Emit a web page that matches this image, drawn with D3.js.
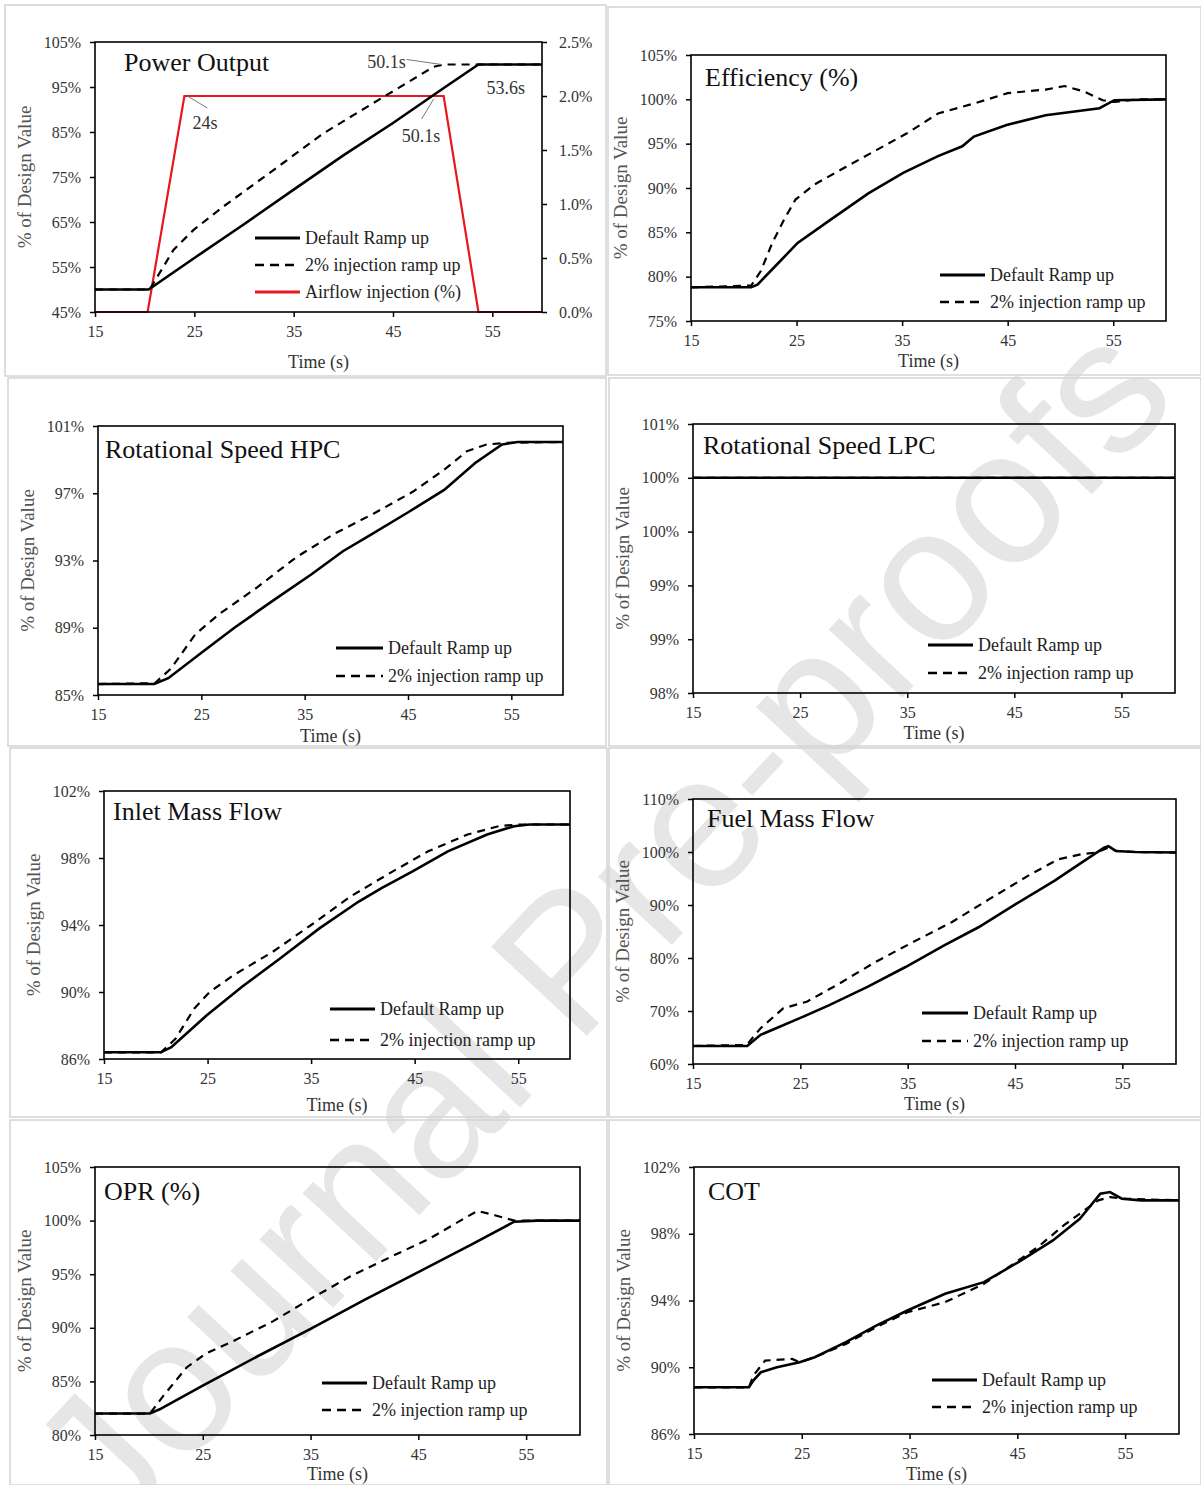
<!DOCTYPE html>
<html><head><meta charset="utf-8">
<script src="https://cdn.jsdelivr.net/npm/d3@7"></script>
<style>body{margin:0;background:#fff}svg{display:block}</style>
</head><body>
<svg id="chart" width="1201" height="1485"></svg>
<script>
// ---------------- DATA ----------------
const timeDomain = [15, 60];
const timeTicks = [15, 25, 35, 45, 55];
const seriesNames = ["Default Ramp up", "2% injection ramp up", "Airflow injection (%)"];
const xAxisTitle = "Time (s)";
const yAxisTitle = "% of Design Value";
const watermarkText = "Journal Pre-proofs";

// Panel 1 – Power Output
const powerTitle = "Power Output";
const powerTicks = [45, 55, 65, 75, 85, 95, 105];
const airflowTicks = [0, 0.5, 1, 1.5, 2, 2.5];
const powerDefault = [[15,50],[20.4,50],[25,57],[30,64.5],[35,72.2],[40,79.8],[45,87],[50,94.6],[53.6,100],[60,100]];
const powerInjection = [[15,50],[20.5,50],[22.9,58.8],[24.9,63.2],[27.9,68.4],[33,76.6],[38,84.7],[43,91.4],[49.1,99.5],[50.1,100],[53.6,100],[60,100]];
const airflowInjection = [[15,0],[20.3,0],[24,2],[50.1,2],[53.6,0],[60,0]];
const powerNotes = [
  {label:"50.1s", t:50.1, v:100, axis:"left"},
  {label:"53.6s", t:53.6, v:100, axis:"left"},
  {label:"24s",   t:24,   v:2,   axis:"right"},
  {label:"50.1s", t:50.1, v:2,   axis:"right"}
];

// Panel 2 – Efficiency
const effTitle = "Efficiency (%)";
const effTicks = [75, 80, 85, 90, 95, 100, 105];
const effDefault = [[15,78.8],[20.7,78.8],[21.3,79.1],[23,81.2],[25.1,83.8],[28.2,86.4],[31.8,89.4],[35.1,91.7],[38.4,93.6],[40.7,94.7],[41.8,95.8],[44.9,97.1],[48.6,98.2],[53.7,99.0],[55.1,99.9],[60,100]];
const effInjection = [[15,78.8],[20.7,79.0],[21.6,80.6],[22.7,83.8],[23.8,86.4],[24.9,88.7],[26.7,90.4],[29.7,92.4],[32.6,94.3],[35.5,96.2],[38.4,98.4],[42.0,99.6],[45,100.7],[48.6,101.1],[50.4,101.5],[52.2,100.9],[54,99.9],[55.1,99.7],[57.3,100],[60,100]];

// Panel 3 – Rotational Speed HPC
const hpcTitle = "Rotational Speed HPC";
const hpcTicks = [85, 89, 93, 97, 101];
const hpcDefault = [[15,85.65],[20.45,85.65],[21.8,86.0],[25.2,87.6],[28.2,89.0],[31.9,90.6],[35.7,92.2],[38.7,93.55],[41.3,94.5],[45.1,95.9],[48.5,97.2],[51.5,98.8],[54.1,99.9],[55.6,100.05],[60,100.05]];
const hpcInjection = [[15,85.65],[20.5,85.7],[22.1,86.6],[24.4,88.6],[26.7,89.8],[30.4,91.4],[34.2,93.2],[37.9,94.6],[41.7,95.8],[45.5,97.1],[48.5,98.4],[50.7,99.5],[52.6,99.9],[54.5,100.0],[60,100.05]];

// Panel 4 – Rotational Speed LPC
const lpcTitle = "Rotational Speed LPC";
const lpcTicks = [98, 98.6, 99.2, 99.8, 100.4, 101];
const lpcDefault = [[15,100.4],[60,100.4]];
const lpcInjection = [[15,100.4],[60,100.4]];

// Panel 5 – Inlet Mass Flow
const inletTitle = "Inlet Mass Flow";
const inletTicks = [86, 90, 94, 98, 102];
const inletDefault = [[15,86.4],[20.5,86.4],[21.5,86.7],[24.9,88.6],[28.3,90.3],[32.0,92.0],[35.8,93.8],[39.6,95.4],[41.8,96.2],[44.8,97.2],[48.2,98.4],[52.0,99.4],[54.6,99.9],[56.1,100.0],[60,100.0]];
const inletInjection = [[15,86.4],[20.5,86.4],[21.9,87.2],[23.7,89.0],[25.2,90.0],[27.5,91.0],[31.3,92.4],[35.0,94.0],[38.8,95.7],[42.6,97.1],[46.3,98.4],[50.1,99.4],[53.1,99.9],[55,100],[60,100]];

// Panel 6 – Fuel Mass Flow
const fuelTitle = "Fuel Mass Flow";
const fuelTicks = [60, 70, 80, 90, 100, 110];
const fuelDefault = [[15,63.4],[20.05,63.4],[21.3,65.5],[24.9,68.6],[27.7,71.1],[31.3,74.6],[34.8,78.3],[38.4,82.4],[41.6,85.8],[45.1,90.2],[48.7,94.6],[51.2,98.0],[53.3,100.8],[53.7,101.1],[54.4,100.2],[56.2,100.0],[60,99.9]];
const fuelInjection = [[15,63.4],[20.0,63.6],[21.3,66.75],[23.4,70.5],[25.6,71.75],[28.4,74.9],[32,79.25],[35.5,83],[39.1,86.75],[42.6,91.1],[46.2,95.5],[49,98.6],[51.2,99.6],[52.6,99.9],[53.7,100.8],[54.4,100.2],[56.2,100],[60,99.9]];

// Panel 7 – OPR
const oprTitle = "OPR (%)";
const oprTicks = [80, 85, 90, 95, 100, 105];
const oprDefault = [[15,82],[20.1,82],[21,82.4],[25,84.6],[30,87.3],[35,89.9],[40,92.6],[45,95.2],[50,97.8],[53.9,99.9],[56,100],[60,100]];
const oprInjection = [[15,82],[20.1,82],[21.3,83.6],[23.5,86.3],[25.3,87.6],[27.9,88.8],[31.5,90.6],[35,92.7],[38.7,94.8],[42.4,96.6],[46,98.3],[49.6,100.4],[50.5,100.9],[52.1,100.5],[53.9,100],[60,100]];

// Panel 8 – COT
const cotTitle = "COT";
const cotTicks = [86, 90, 94, 98, 102];
const cotDefault = [[15,88.8],[20.1,88.8],[20.5,89.2],[21.2,89.7],[22.7,90.0],[24.8,90.3],[26.2,90.6],[29.1,91.5],[31.9,92.5],[34.8,93.4],[38.3,94.4],[41.9,95.1],[45.1,96.3],[48.3,97.6],[50.8,98.9],[52.7,100.4],[53.6,100.5],[54.7,100.1],[56.5,100.0],[60,100.0]];
const cotInjection = [[15,88.8],[20.1,88.8],[20.5,89.5],[21.6,90.4],[24.1,90.5],[24.8,90.3],[26.2,90.6],[29.1,91.4],[31.9,92.4],[34.8,93.3],[38.3,93.9],[41.9,95.0],[45.1,96.4],[46.9,97.2],[49.3,98.5],[52.5,100.0],[53.6,100.2],[55,100.1],[60,100.0]];

// ---------------- LAYOUT ----------------
const panels = [
  {title:powerTitle, ticks:powerTicks, def:powerDefault, inj:powerInjection,
   frame:[5,5,606,376], plot:[95,42,542,312], titlePos:[124,63], legend:[255,238,27,45], xTitleDy:50},
  {title:effTitle, ticks:effTicks, def:effDefault, inj:effInjection,
   frame:[608,7,1201,375], plot:[691,55,1166,321], titlePos:[705,78], legend:[940,275,27,45], xTitleDy:40},
  {title:hpcTitle, ticks:hpcTicks, def:hpcDefault, inj:hpcInjection,
   frame:[8,378,606,746], plot:[98,426,563,695], titlePos:[105,450], legend:[336,648,28,47], xTitleDy:41},
  {title:lpcTitle, ticks:lpcTicks, def:lpcDefault, inj:lpcInjection,
   frame:[609,378,1201,746], plot:[693,424,1175,693], titlePos:[703,446], legend:[928,645,28,45], xTitleDy:40},
  {title:inletTitle, ticks:inletTicks, def:inletDefault, inj:inletInjection,
   frame:[10,748,607,1117], plot:[104,791,570,1059], titlePos:[113,812], legend:[330,1009,31,45], xTitleDy:46},
  {title:fuelTitle, ticks:fuelTicks, def:fuelDefault, inj:fuelInjection,
   frame:[609,748,1201,1117], plot:[693,799,1176,1064], titlePos:[707,819], legend:[922,1013,28,46], xTitleDy:40},
  {title:oprTitle, ticks:oprTicks, def:oprDefault, inj:oprInjection,
   frame:[10,1120,607,1485], plot:[95,1167,580,1435], titlePos:[104,1192], legend:[322,1383,27,45], xTitleDy:39},
  {title:cotTitle, ticks:cotTicks, def:cotDefault, inj:cotInjection,
   frame:[609,1120,1201,1485], plot:[694,1167,1179,1434], titlePos:[708,1192], legend:[932,1380,27,45], xTitleDy:40}
];

const SERIF = "'Liberation Serif','Times New Roman',serif";
const svg = d3.select("#chart");

// watermark
svg.append("text")
  .attr("transform", "translate(600,925) rotate(-47)")
  .attr("text-anchor", "middle")
  .attr("dominant-baseline", "central")
  .style("font-family", "'Liberation Sans',Arial,sans-serif")
  .style("font-size", "190px")
  .style("fill", "#e6e6e6")
  .text(watermarkText);

const pct0 = d => d3.format(".0f")(d) + "%";
const pct1 = d => d3.format(".1f")(d) + "%";

panels.forEach((p, i) => {
  const [fx0, fy0, fx1, fy1] = p.frame;
  svg.append("rect").attr("x", fx0).attr("y", fy0)
    .attr("width", fx1 - fx0).attr("height", fy1 - fy0)
    .attr("fill", "none").attr("stroke", "#d4d4d4").attr("stroke-width", 1.5);

  const [px0, py0, px1, py1] = p.plot;
  const x = d3.scaleLinear().domain(timeDomain).range([px0, px1]);
  const y = d3.scaleLinear().domain(d3.extent(p.ticks)).range([py1, py0]);
  const g = svg.append("g");

  // axes
  const yAx = g.append("g").attr("transform", `translate(${px0},0)`)
    .call(d3.axisLeft(y).tickValues(p.ticks).tickFormat(pct0).tickSize(5).tickSizeOuter(0).tickPadding(9));
  const xAx = g.append("g").attr("transform", `translate(0,${py1})`)
    .call(d3.axisBottom(x).tickValues(timeTicks).tickFormat(d3.format("d")).tickSize(5).tickSizeOuter(0).tickPadding(9));
  [yAx, xAx].forEach(a => {
    a.select(".domain").remove();
    a.selectAll("line").attr("stroke", "#000").attr("stroke-width", 1.5);
    a.selectAll("text").style("font-family", SERIF).style("font-size", "16px").attr("fill", "#333");
  });

  let yR = null;
  if (i === 0) {
    yR = d3.scaleLinear().domain(d3.extent(airflowTicks)).range([py1, py0]);
    const rAx = g.append("g").attr("transform", `translate(${px1},0)`)
      .call(d3.axisRight(yR).tickValues(airflowTicks).tickFormat(pct1).tickSize(5).tickSizeOuter(0).tickPadding(12));
    rAx.select(".domain").remove();
    rAx.selectAll("line").attr("stroke", "#000").attr("stroke-width", 1.5);
    rAx.selectAll("text").style("font-family", SERIF).style("font-size", "16px").attr("fill", "#333");
  }

  // lines
  const line = d3.line().x(d => x(d[0])).y(d => y(d[1]));
  if (i === 0) {
    const lineR = d3.line().x(d => x(d[0])).y(d => yR(d[1]));
    g.append("path").datum(airflowInjection).attr("d", lineR)
      .attr("fill", "none").attr("stroke", "#e8161e").attr("stroke-width", 2.2);
  }
  g.append("path").datum(p.inj).attr("d", line)
    .attr("fill", "none").attr("stroke", "#000").attr("stroke-width", 2.2)
    .attr("stroke-dasharray", "8,6");
  g.append("path").datum(p.def).attr("d", line)
    .attr("fill", "none").attr("stroke", "#000").attr("stroke-width", 2.6);

  // plot frame
  g.append("rect").attr("x", px0).attr("y", py0).attr("width", px1 - px0).attr("height", py1 - py0)
    .attr("fill", "none").attr("stroke", "#000").attr("stroke-width", 1.6);

  // title
  g.append("text").attr("x", p.titlePos[0]).attr("y", p.titlePos[1] + 8)
    .style("font-family", SERIF).style("font-size", "26px").attr("fill", "#111").text(p.title);

  // axis titles
  g.append("text").attr("x", (px0 + px1) / 2).attr("y", py1 + p.xTitleDy + 6)
    .attr("text-anchor", "middle").style("font-family", SERIF).style("font-size", "18px")
    .attr("fill", "#333").text(xAxisTitle);
  g.append("text").attr("transform", `translate(${px0 - 64},${(py0 + py1) / 2}) rotate(-90)`)
    .attr("text-anchor", "middle").style("font-family", SERIF).style("font-size", "19px")
    .attr("fill", "#555").text(yAxisTitle);

  // legend
  const [lx, ly, ldy, llen] = p.legend;
  const items = i === 0 ? [0, 1, 2] : [0, 1];
  items.forEach((k, j) => {
    const yy = ly + j * ldy;
    const ln = g.append("line").attr("x1", lx).attr("x2", lx + llen).attr("y1", yy).attr("y2", yy)
      .attr("stroke", k === 2 ? "#e8161e" : "#000").attr("stroke-width", k === 1 ? 2.4 : 2.8);
    if (k === 1) ln.attr("stroke-dasharray", "9,6");
    g.append("text").attr("x", lx + llen + 5).attr("y", yy + 6)
      .style("font-family", SERIF).style("font-size", "18px").attr("fill", "#222").text(seriesNames[k]);
  });

  // annotations (panel 1)
  if (i === 0) {
    const noteLayout = [
      {dx:-38, dy:-3, anchor:"end", leader:[[-37,-5],[-2,0]]},
      {dx:8, dy:23, anchor:"start", leader:null},
      {dx:8, dy:27, anchor:"start", leader:[[3,0],[23,12]]},
      {dx:-42, dy:40, anchor:"start", leader:[[-10,3],[-22,23]]}
    ];
    powerNotes.forEach((n, j) => {
      const L = noteLayout[j];
      const ax = x(n.t), ay = n.axis === "left" ? y(n.v) : yR(n.v);
      if (L.leader) {
        g.append("line").attr("x1", ax + L.leader[0][0]).attr("y1", ay + L.leader[0][1])
          .attr("x2", ax + L.leader[1][0]).attr("y2", ay + L.leader[1][1])
          .attr("stroke", "#777").attr("stroke-width", 1);
      }
      g.append("text").attr("x", ax + L.dx).attr("y", ay + L.dy + 6)
        .attr("text-anchor", L.anchor).style("font-family", SERIF).style("font-size", "18px")
        .attr("fill", "#333").text(n.label);
    });
  }
});
</script>
</body></html>
